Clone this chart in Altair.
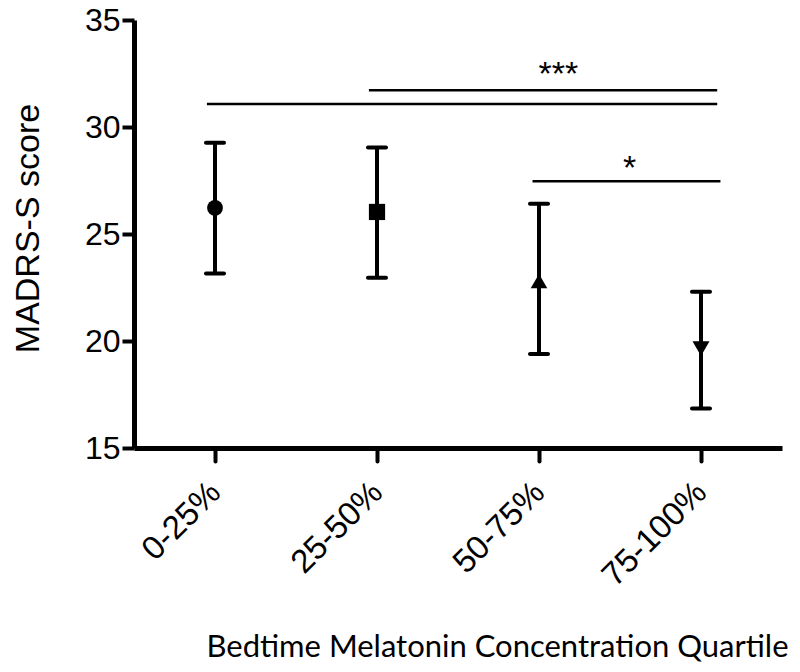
import json
import altair as alt
import pandas as pd

# ---- data ----
categories = ["0-25%", "25-50%", "50-75%", "75-100%"]
cat_pos = [1, 2, 3, 4]
means = [26.22, 26.03, 22.80, 19.64]
upper = [29.26, 29.04, 26.41, 22.30]
lower = [23.15, 22.96, 19.39, 16.85]

sig_y = [31.07, 31.72, 27.47]
sig_start = [0.95, 1.95, 2.96]
sig_end = [4.10, 4.10, 4.12]

stars = ["***", "*"]
star_x = [3.12, 3.56]
star_y = [32.41, 28.06]

y_ticks = [15, 20, 25, 30, 35]

df = pd.DataFrame({"cat": categories, "pos": cat_pos, "mean": means,
                   "hi": upper, "lo": lower})
sig_df = pd.DataFrame({"y": sig_y, "x1": sig_start, "x2": sig_end})
star_df = pd.DataFrame({"t": stars, "x": star_x, "y": star_y})

label_expr = json.dumps(categories) + "[datum.value - 1]"

x_scale = alt.Scale(domain=[0.5, 4.5], nice=False, zero=False)
y_scale = alt.Scale(domain=[15, 35], nice=False, zero=False)

x_axis = alt.Axis(values=cat_pos, labelExpr=label_expr, labelAngle=-45,
                  labelAlign="right", labelBaseline="middle",
                  labelFont="Liberation Sans", labelFontSize=33,
                  labelPadding=26, labelFlush=False, tickSize=13, tickCap="round",
                  title="Bedtime Melatonin Concentration Quartile",
                  titleFont="Lato", titleFontSize=31, titleFontWeight="normal",
                  titleX=363, titleY=208, titleAnchor="middle",
                  titleAlign="center", titleBaseline="alphabetic")
y_axis = alt.Axis(values=y_ticks, labelFont="Liberation Sans", labelFontSize=32,
                  labelPadding=2, tickSize=12,
                  title="MADRS-S score", titleFont="Liberation Sans",
                  titleFontSize=34, titleFontWeight="normal", titleAngle=-90,
                  titleX=-96, titleY=208, titleAlign="center",
                  titleBaseline="alphabetic")

base = alt.Chart(df)

bars = base.mark_rule(color="black", strokeWidth=4).encode(
    x=alt.X("pos:Q", scale=x_scale, axis=x_axis),
    y=alt.Y("lo:Q", scale=y_scale, axis=y_axis),
    y2="hi:Q",
)
caps_hi = base.mark_tick(color="black", thickness=4, size=22, orient="horizontal",
                         cornerRadius=2, opacity=1).encode(
    x=alt.X("pos:Q", scale=x_scale), y=alt.Y("hi:Q", scale=y_scale))
caps_lo = base.mark_tick(color="black", thickness=4, size=22, orient="horizontal",
                         cornerRadius=2, opacity=1).encode(
    x=alt.X("pos:Q", scale=x_scale), y=alt.Y("lo:Q", scale=y_scale))
points = base.mark_point(filled=True, color="black", opacity=1).encode(
    x=alt.X("pos:Q", scale=x_scale),
    y=alt.Y("mean:Q", scale=y_scale),
    shape=alt.Shape("cat:N", scale=alt.Scale(
        domain=categories,
        range=["circle", "square", "triangle-up", "triangle-down"]), legend=None),
    size=alt.Size("cat:N", scale=alt.Scale(domain=categories,
                                           range=[250, 289, 300, 300]), legend=None),
)

sig = alt.Chart(sig_df).mark_rule(color="black", strokeWidth=2.5).encode(
    x=alt.X("x1:Q", scale=x_scale), x2="x2:Q", y=alt.Y("y:Q", scale=y_scale))
star_text = alt.Chart(star_df).mark_text(font="Liberation Sans", fontSize=34,
                                         color="black", baseline="middle",
                                         align="center").encode(
    x=alt.X("x:Q", scale=x_scale), y=alt.Y("y:Q", scale=y_scale), text="t:N")

chart = alt.layer(sig, bars, caps_hi, caps_lo, points, star_text).properties(
    width=648, height=428,
    autosize=alt.AutoSizeParams(type="none"),
    padding={"left": 126, "top": 12, "right": 10, "bottom": 216},
).configure_view(stroke=None).configure_axis(
    grid=False, domainColor="black", domainWidth=5, tickColor="black",
    tickWidth=4, labelColor="black", titleColor="black",
)

chart.save("out.html", embed_options={"renderer": "svg", "actions": False})
